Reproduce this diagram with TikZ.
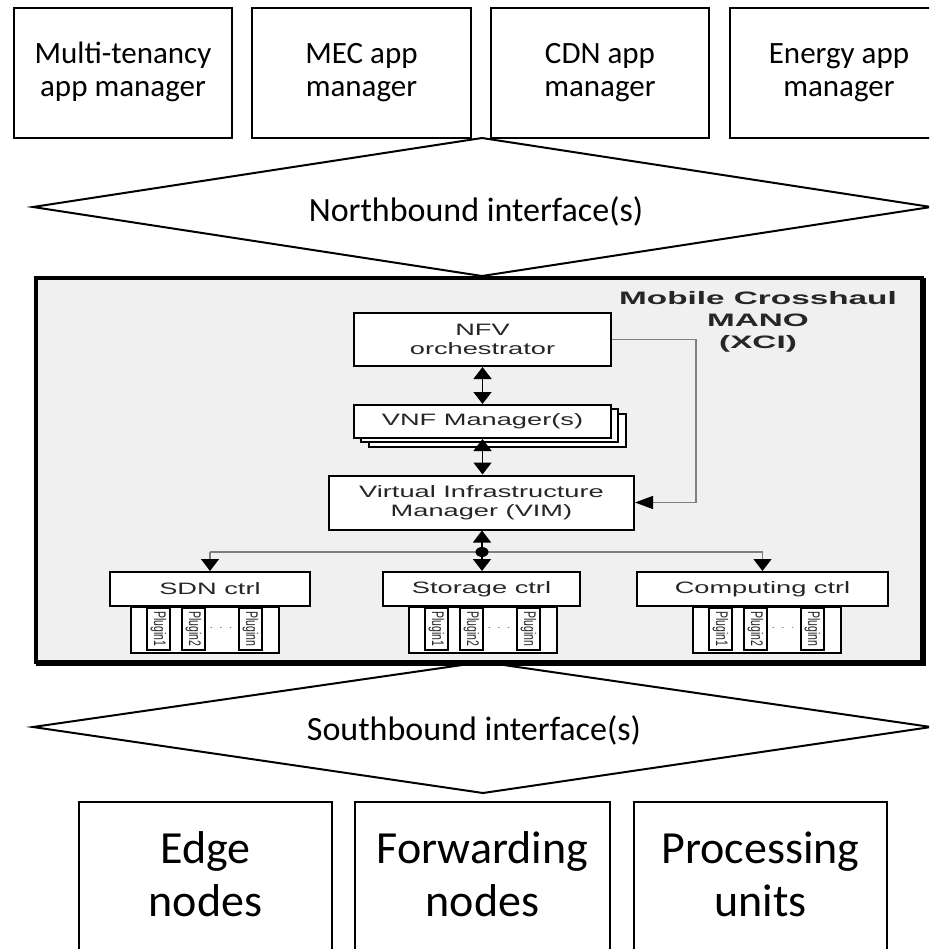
\documentclass[tikz,border=0pt]{standalone}
\usepackage{fontspec}
\setmainfont{Carlito}
\newfontfamily\wide[FakeStretch=1.65]{Liberation Sans}
\newfontfamily\titlefont[FakeStretch=1.85]{Liberation Sans}
\newfontfamily\plugfont{Liberation Sans}
\usetikzlibrary{arrows.meta}
\definecolor{panel}{HTML}{F0F0F0}
\definecolor{wire}{HTML}{7F7F7F}
\definecolor{ink}{HTML}{262626}
\tikzset{
  vtip/.tip={Triangle[width=18pt,length=12pt,color=black]},
  htip/.tip={Triangle[width=13pt,length=18pt,color=black]},
}
\begin{document}
\begin{tikzpicture}[x=1pt,y=-1pt,
  appbox/.style={draw, line width=2.5pt, fill=white, inner sep=0pt, align=center,
    minimum width=218pt, minimum height=130pt, font=\fontsize{31}{33}\selectfont},
  hostbox/.style={draw, line width=2.5pt, fill=white, inner sep=0pt, align=center,
    minimum width=253pt, minimum height=154pt, font=\fontsize{46}{53}\selectfont},
  iface/.style={draw, line width=2pt, fill=white, line join=miter},
  ifacetext/.style={inner sep=0pt, font=\fontsize{34}{40}\selectfont},
  frame/.style={draw, line width=3.5pt, fill=panel, inner sep=0pt},
  blk/.style={draw=black, line width=2pt, fill=white, inner sep=0pt, align=center,
    text=ink, font=\wide\fontsize{16.5}{19}\selectfont},
  tray/.style={draw, line width=1.6pt, fill=white, inner sep=0pt,
    minimum width=148pt, minimum height=46pt},
  plugbox/.style={draw, line width=2pt, fill=white, inner sep=0pt,
    minimum width=23pt, minimum height=42pt},
  plugtext/.style={inner sep=0pt, rotate=-90, yscale=1.6, text=ink,
    font=\plugfont\fontsize{10.5}{10.5}\selectfont},
  dotsep/.style={inner sep=0pt, text=wire, font=\wide\fontsize{9}{9}\selectfont},
  link/.style={line width=1.6pt, draw=black},
  feed/.style={line width=1.2pt, draw=wire},
]
\path[use as bounding box] (0,0) rectangle (929,949);
\clip (0,0) rectangle (929,949);

% application managers
\node[appbox] (mt)  at (123,73)   {\strut Multi-tenancy\\\strut app manager};
\node[appbox, minimum width=219pt] (mec) at (361.5,73) {\strut MEC app\\\strut manager};
\node[appbox] (cdn) at (600,73)   {\strut CDN app\\\strut manager};
\node[appbox] (eng) at (839,73)   {\strut Energy app\\\strut manager};

% interfaces
\draw[iface] (33,207) -- (482,138) -- (931,207) -- (482,276) -- cycle;
\node[ifacetext] (nbi) at (476,211.5) {Northbound interface(s)};
\draw[iface] (33,727) -- (483,662) -- (931,727) -- (483,793) -- cycle;
\node[ifacetext] (sbi) at (474,730.5) {Southbound interface(s)};

% infrastructure
\node[hostbox] (edge) at (205.5,879) {\strut Edge\\\strut nodes};
\node[hostbox, minimum width=255pt] (fwd) at (482.5,879) {\strut Forwarding\\\strut nodes};
\node[hostbox] (proc) at (760.5,879) {\strut Processing\\\strut units};

% MANO panel with a heavier right and bottom edge
\node[frame, minimum width=886pt, minimum height=384pt] (xci) at (479,470) {};
\draw[line width=3pt] ([xshift=0.5pt,yshift=-2pt]xci.north east)
  -- ([xshift=0.5pt,yshift=-0.5pt]xci.south east)
  -- ([xshift=2pt,yshift=-0.5pt]xci.south west);
\node[inner sep=0pt, anchor=north, align=center, text=ink,
  font=\titlefont\bfseries\fontsize{18}{22}\selectfont] (title) at (758,291)
  {Mobile Crosshaul\\MANO\\(XCI)};

\node[blk, minimum width=257pt, minimum height=53pt] (nfv) at (482.5,339.5) {NFV\\orchestrator};
\node[blk, line width=1.5pt, minimum width=257pt, minimum height=33pt] (vnf3) at (497.5,430.5) {};
\node[blk, line width=1.5pt, minimum width=257pt, minimum height=33pt] (vnf2) at (489.5,425.5) {};
\node[blk, minimum width=257pt, minimum height=33pt] (vnf) at (482.5,421.5) {VNF Manager(s)};
\node[blk, minimum width=305pt, minimum height=54pt] (vim) at (481.5,502.5)
  {Virtual Infrastructure\\Manager (VIM)};

\node[blk, minimum width=200pt, minimum height=34pt] (sdn) at (210,589) {SDN ctrl};
\node[blk, minimum width=197pt, minimum height=34pt] (sto) at (481.5,589) {Storage ctrl};
\node[blk, minimum width=251pt, minimum height=34pt] (cmp) at (762.5,589) {Computing ctrl};

% plugin trays under each controller
\foreach \c/\x in {sdn/130,sto/408,cmp/692}{
  \node[tray, anchor=north west] (\c-tray) at (\x,606) {};
  \foreach \n/\dx in {1/16,2/51,n/108}{
    \node[plugbox, anchor=north west] (\c-plug\n) at (\x+\dx,607) {};
    \node[plugtext] (\c-plugtext\n) at (\c-plug\n) {Plugin\n};
  }
  \node[dotsep] (\c-dots) at (\x+91,628) {. . .};
}

% control connections
\draw[link, {vtip}-{vtip}] (nfv) -- (vnf);
\draw[link, {vtip}-{vtip}] (vnf.south) -- (vnf.south |- vim.north);
\coordinate (rail) at (696,0);
\draw[feed, -{htip}] (nfv.east) -- (nfv.east -| rail) |- (vim.east);

\coordinate (hub) at (482,552);
\draw[feed] (sdn.north |- hub) -- (cmp.north |- hub);
\draw[feed, -{vtip}] (sdn.north |- hub) -- (sdn.north);
\draw[feed, -{vtip}] (cmp.north |- hub) -- (cmp.north);
\draw[link, -{vtip}] (hub) -- (hub |- vim.south);
\draw[link, -{vtip}] (hub) -- (hub |- sto.north);
\fill (hub) ellipse [x radius=6.5pt, y radius=5pt];
\end{tikzpicture}
\end{document}
